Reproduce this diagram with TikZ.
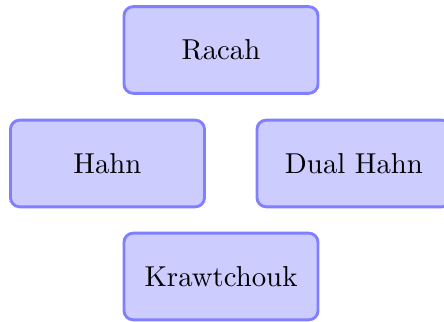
\documentclass[tikz,border=0pt]{standalone}
\usepackage{tikz}
\tikzset{
  famnode/.style={draw=blue!50, fill=blue!20, line width=1pt, rounded corners=3.2pt,
    inner sep=0pt, text=black, font=\normalsize,
    minimum width=67.4pt, minimum height=30.1pt},
}
\begin{document}
\begin{tikzpicture}[x=0.3473pt, y=-0.3473pt]
\useasboundingbox (0,0) rectangle (444,322);
\clip (0,0) rectangle (444,322);
\node[famnode] (racah) at (221,50) {Racah};
\node[famnode] (hahn) at (107.5,163.5) {Hahn};
\node[famnode] (dualhahn) at (354,163.5) {Dual Hahn};
\node[famnode] (krawt) at (221,276.5) {Krawtchouk};
\end{tikzpicture}
\end{document}
